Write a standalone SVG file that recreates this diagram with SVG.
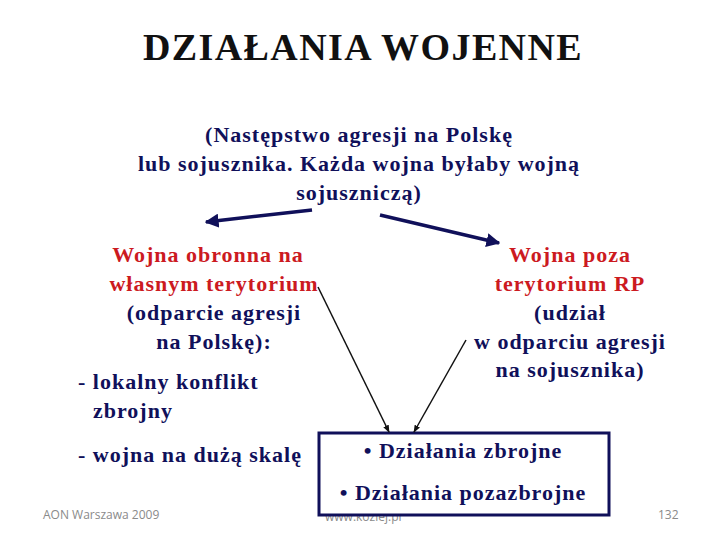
<svg xmlns="http://www.w3.org/2000/svg" width="720" height="540" viewBox="0 0 720 540">
<defs>
<style>
.t{font-family:"Liberation Serif","Times New Roman",serif;font-weight:bold;}
.b{font-size:22px;letter-spacing:1px;}
.navy{fill:#10105a;}
.red{fill:#cc1a1f;}
.foot{font-family:"Open Sans","Liberation Sans",sans-serif;font-size:12px;fill:#8a8a8a;}
</style>
<marker id="ah" viewBox="0 0 10 10" refX="9" refY="5" markerWidth="4" markerHeight="4" orient="auto"><path d="M0,0 L10,5 L0,10 z" fill="#10105a"/></marker>
<marker id="ahb" viewBox="0 0 10 10" refX="9" refY="5" markerWidth="5" markerHeight="5" orient="auto"><path d="M0,1 L10,5 L0,9 z" fill="#111"/></marker>
</defs>
<rect width="720" height="540" fill="#fff"/>
<g id="title"><text class="t" x="363" y="60" font-size="38" text-anchor="middle" fill="#111" letter-spacing="1.4">DZIAŁANIA WOJENNE</text></g>
<g id="subtitle" class="t b navy" text-anchor="middle">
<text x="359" y="142">(Następstwo agresji na Polskę</text>
<text x="359" y="171">lub sojusznika. Każda wojna byłaby wojną</text>
<text x="359" y="200">sojuszniczą)</text>
</g>
<g id="left" class="t b">
<text class="red" x="208" y="262" text-anchor="middle">Wojna obronna na</text>
<text class="red" x="214" y="291" text-anchor="middle">własnym terytorium</text>
<text class="navy" x="214" y="320" text-anchor="middle">(odparcie agresji</text>
<text class="navy" x="214" y="349" text-anchor="middle">na Polskę):</text>
<text class="navy" x="78" y="389">- lokalny konflikt</text>
<text class="navy" x="93" y="418">zbrojny</text>
<text class="navy" x="78" y="462">- wojna na dużą skalę</text>
</g>
<g id="right" class="t b" text-anchor="middle">
<text class="red" x="570" y="262">Wojna poza</text>
<text class="red" x="570" y="291">terytorium RP</text>
<text class="navy" x="570" y="320">(udział</text>
<text class="navy" x="570" y="349">w odparciu agresji</text>
<text class="navy" x="570" y="377">na sojusznika)</text>
</g>
<text class="foot" x="325" y="521" font-size="11">www.koziej.pl</text>
<g id="box">
<rect x="319" y="433" width="290" height="82" fill="#fff" stroke="#10105a" stroke-width="3"/>
<text class="t b navy" x="463" y="458" text-anchor="middle">• Działania zbrojne</text>
<text class="t b navy" x="463" y="500" text-anchor="middle">• Działania pozazbrojne</text>
</g>
<g id="connectors">
<line x1="312" y1="210" x2="206" y2="222" stroke="#10105a" stroke-width="3.5" marker-end="url(#ah)"/>
<line x1="380" y1="215" x2="499" y2="243" stroke="#10105a" stroke-width="3.5" marker-end="url(#ah)"/>
<line x1="318" y1="287" x2="389" y2="432" stroke="#111" stroke-width="1.5" marker-end="url(#ahb)"/>
<line x1="466" y1="340" x2="414" y2="432" stroke="#111" stroke-width="1.5" marker-end="url(#ahb)"/>
</g>
<g id="footer">
<text class="foot" x="43" y="519">AON Warszawa 2009</text>
<text class="foot" x="658" y="519">132</text>
</g>
</svg>
